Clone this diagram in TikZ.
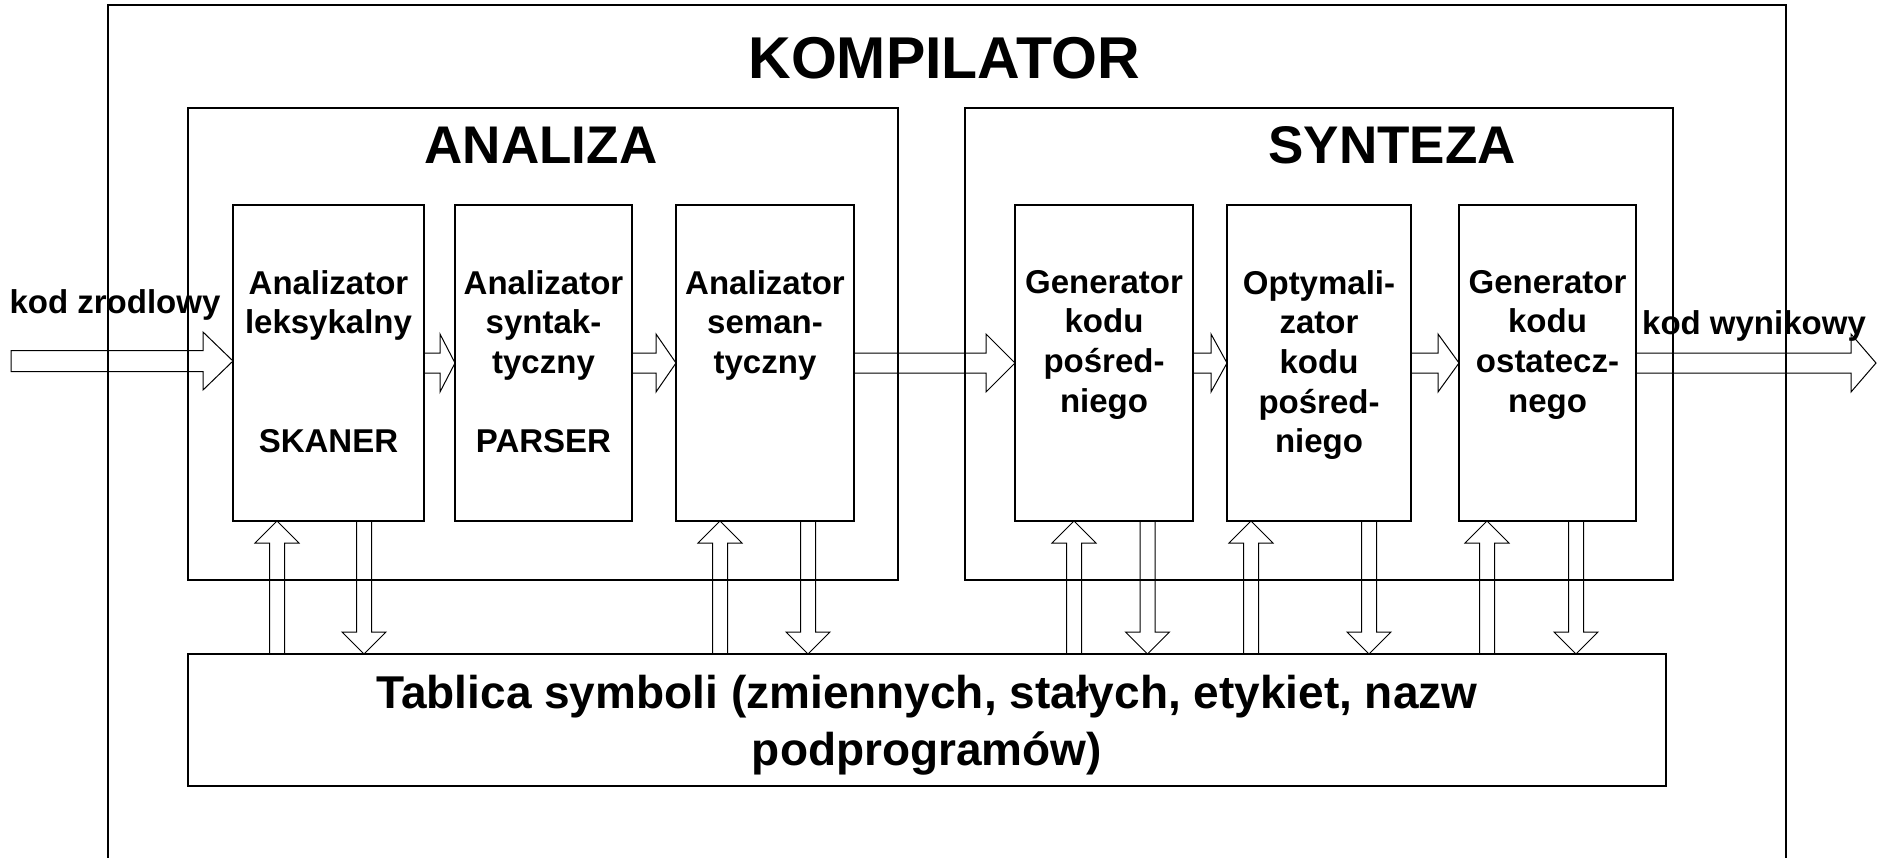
\documentclass[tikz,border=0pt]{standalone}
\usepackage{fontspec}
\setmainfont{Liberation Sans}
\usetikzlibrary{calc}
\tikzset{
  box/.style={draw, line width=1.1pt, inner sep=0pt, outer sep=0pt},
  boxtxt/.style={font=\fontsize{33}{39.7}\selectfont\bfseries, align=center, inner sep=0pt, anchor=north},
  lbl/.style={font=\fontsize{33}{39.7}\selectfont\bfseries, inner sep=0pt, anchor=base},
  tabtxt/.style={font=\fontsize{46}{57.5}\selectfont\bfseries, align=center, inner sep=0pt},
  fat/.style={draw, line width=1pt, line join=miter},
}
\newcommand\hfat[5]{%
  \draw[fat] let \p1=(#1), \p2=(#2), \p3=(0,#3) in
    (\x1,\y3+#5) -- (\x2-#4,\y3+#5) -- (\x2-#4,\y3+29pt) -- (\x2,\y3)
    -- (\x2-#4,\y3-29pt) -- (\x2-#4,\y3-#5) -- (\x1,\y3-#5) -- cycle;}
\newcommand\vup[3]{%
  \draw[fat] let \p1=(#1.south), \p2=(#2.north), \p3=(#3,0) in
    (\x3-7.5pt,\y2) -- (\x3-7.5pt,\y1-22pt) -- (\x3-22pt,\y1-22pt) -- (\x3,\y1)
    -- (\x3+22pt,\y1-22pt) -- (\x3+7.5pt,\y1-22pt) -- (\x3+7.5pt,\y2) -- cycle;}
\newcommand\vdown[3]{%
  \draw[fat] let \p1=(#1.south), \p2=(#2.north), \p3=(#3,0) in
    (\x3-7.5pt,\y1) -- (\x3-7.5pt,\y2+22pt) -- (\x3-22pt,\y2+22pt) -- (\x3,\y2)
    -- (\x3+22pt,\y2+22pt) -- (\x3+7.5pt,\y2+22pt) -- (\x3+7.5pt,\y1) -- cycle;}
\begin{document}
\begin{tikzpicture}[x=1pt,y=-1pt]
\useasboundingbox (0,0) rectangle (1877,857);
\clip (0,0) rectangle (1877,857);
% frames
\node[box, minimum width=1678pt, minimum height=895pt] (komp) at (947,452.5) {};
\node[box, minimum width=710pt, minimum height=472pt] (anal) at (543,344) {};
\node[box, minimum width=708pt, minimum height=472pt] (synt) at (1319,344) {};
% titles
\node[lbl, font=\fontsize{59}{60}\selectfont\bfseries] (tkomp) at (944,78) {KOMPILATOR};
\node[lbl, font=\fontsize{53}{55}\selectfont\bfseries] (tanal) at (541,163) {ANALIZA};
\node[lbl, font=\fontsize{53}{55}\selectfont\bfseries] (tsynt) at (1392,163) {SYNTEZA};
% stage boxes
\node[box, minimum width=191pt, minimum height=316pt] (b1) at (328.5,363) {};
\node[box, minimum width=177pt, minimum height=316pt] (b2) at (543.5,363) {};
\node[box, minimum width=178pt, minimum height=316pt] (b3) at (765,363) {};
\node[box, minimum width=178pt, minimum height=316pt] (b4) at (1104,363) {};
\node[box, minimum width=184pt, minimum height=316pt] (b5) at (1319,363) {};
\node[box, minimum width=177pt, minimum height=316pt] (b6) at (1547.5,363) {};
% box texts
\node[boxtxt] (t1) at (328.5,270) {Analizator\\leksykalny\\[79.4pt]SKANER};
\node[boxtxt] (t2) at (543.5,270) {Analizator\\syntak-\\tyczny\\[39.7pt]PARSER};
\node[boxtxt] (t3) at (765,270) {Analizator\\seman-\\tyczny};
\node[boxtxt] (t4) at (1104,270) {Generator\\kodu\\pośred-\\niego};
\node[boxtxt] (t5) at (1319,270) {Optymali-\\zator\\kodu\\pośred-\\niego};
\node[boxtxt] (t6) at (1547.5,270) {Generator\\kodu\\ostatecz-\\nego};
% symbol table
\node[box, minimum width=1478pt, minimum height=132pt] (tab) at (927,720) {};
\node[tabtxt] (ttab) at ([yshift=-5pt]tab.center)
      {Tablica symboli (zmiennych, stałych, etykiet, nazw\\podprogramów)};
% input / output
\coordinate (in) at (11,361);
\coordinate (out) at (1876,363);
\node[lbl] (kin) at (115,313) {kod zrodlowy};
\node[lbl] (kout) at (1754,334) {kod wynikowy};
% horizontal flow arrows
\hfat{in}{b1.west}{361}{30pt}{10.5pt}
\hfat{b1.east}{b2.west}{363}{15pt}{10pt}
\hfat{b2.east}{b3.west}{363}{20pt}{10pt}
\hfat{b3.east}{b4.west}{363}{29pt}{10pt}
\hfat{b4.east}{b5.west}{363}{16pt}{10pt}
\hfat{b5.east}{b6.west}{363}{21pt}{10pt}
\hfat{b6.east}{out}{363}{25pt}{10pt}
% symbol table arrows
\vup{b1}{tab}{277}   \vdown{b1}{tab}{364}
\vup{b3}{tab}{720}   \vdown{b3}{tab}{808}
\vup{b4}{tab}{1074}  \vdown{b4}{tab}{1147.5}
\vup{b5}{tab}{1251}  \vdown{b5}{tab}{1369}
\vup{b6}{tab}{1487}  \vdown{b6}{tab}{1576}
\end{tikzpicture}
\end{document}
